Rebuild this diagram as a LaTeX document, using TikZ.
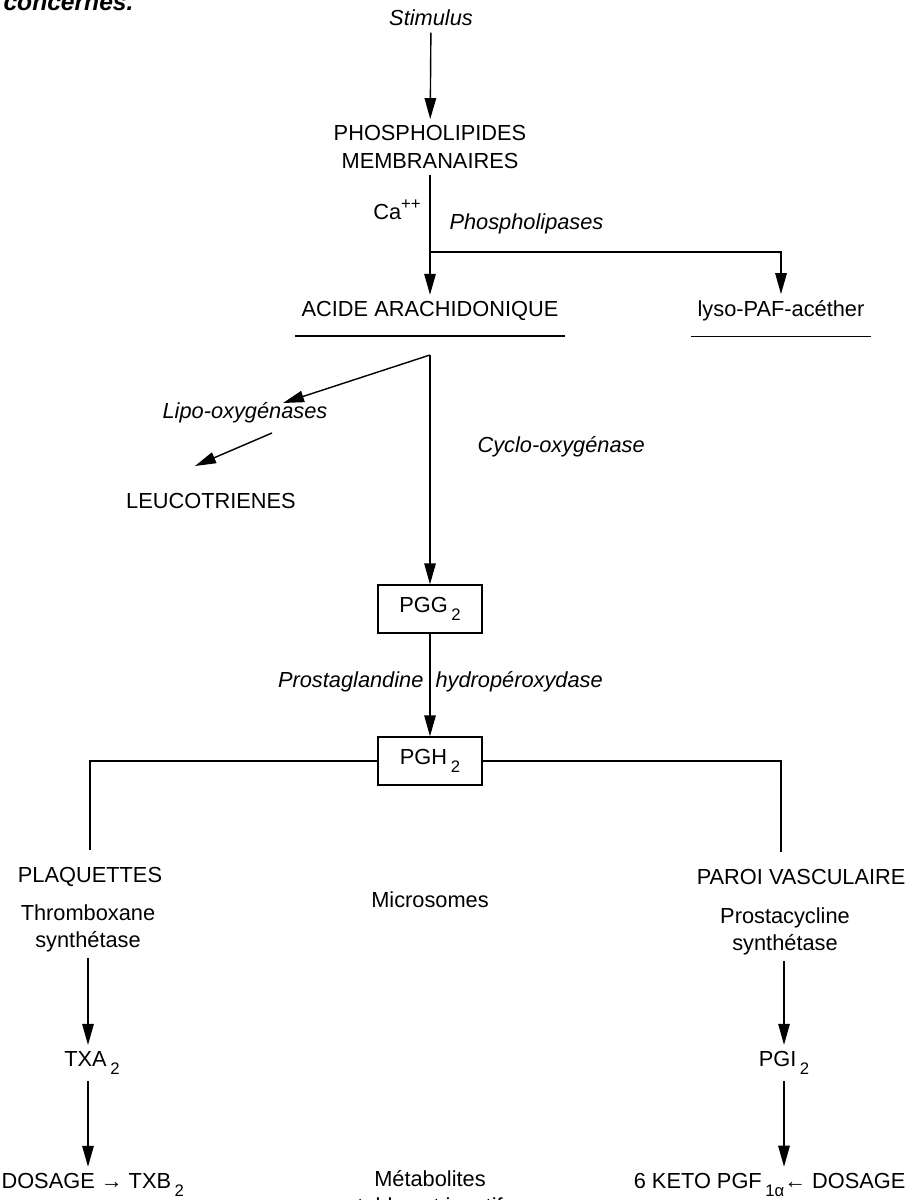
\documentclass[tikz,border=0pt]{standalone}
\usepackage{fontspec}
\setmainfont{Liberation Sans}
\usepackage{tikz}
\usetikzlibrary{arrows.meta}

\newcommand{\low}[1]{\,\raisebox{-0.7ex}{\fontsize{9.5}{9.5}\selectfont #1}}

\begin{document}
\begin{tikzpicture}[x = 0.2mm, y = -0.2mm, line width = 0.8pt,
        every node/.style = {font = \fontsize{12.4}{15.5}\selectfont, align = center},
        enzyme/.style = {font = \fontsize{12.4}{15.5}\selectfont\itshape},
        boite/.style = {shape = rectangle, draw = black, line width = 0.8pt, minimum width = 20.8mm, minimum height = 9.6mm},
        fleche/.style = {-{Triangle[length = 4.2mm, width = 2.3mm]}}]
            \useasboundingbox (0, 0) rectangle (907, 1200);
            \node [anchor = base west, font = \fontsize{14}{16}\selectfont\bfseries\itshape] (titre) at (-3, 11) {concernés.};
            \node [enzyme] (stimulus) at (431, 18) {Stimulus};
            \node (phospho) at (430, 147) {PHOSPHOLIPIDES\\MEMBRANAIRES};
            \node (ca) at (397, 210) {Ca\raisebox{0.9ex}{\fontsize{9.5}{9.5}\selectfont ++}};
            \node [enzyme, anchor = west] (phospholipases) at (443, 224) {Phospholipases};
            \coordinate (branche) at (430, 252);
            \node (acide) at (430, 311) {ACIDE ARACHIDONIQUE};
            \node (lyso) at (781, 311) {lyso-PAF-acéther};
            \coordinate (fourche) at (430, 355);
            \node [enzyme] (lipo) at (245, 413) {Lipo-oxygénases};
            \coordinate (lipoA) at (283, 403);
            \coordinate (lipoB) at (272, 433);
            \coordinate (leucoA) at (195, 466);
            \node (leuco) at (211, 501) {LEUCOTRIENES};
            \node [enzyme, anchor = west] (cyclo) at (471, 447) {Cyclo-oxygénase};
            \node [boite] (pgg) at (430, 609) {PGG\low{2}};
            \node [enzyme, anchor = east] (prosta) at (430, 682) {Prostaglandine};
            \node [enzyme, anchor = west] (hydro) at (429, 682) {hydropéroxydase};
            \node [boite] (pgh) at (430, 761) {PGH\low{2}};
            \node (plaq) at (90, 877) {PLAQUETTES};
            \node [anchor = east] (paroi) at (912, 877) {PAROI VASCULAIRE};
            \node (micro) at (430, 900) {Microsomes};
            \node (thrombo) at (88, 928) {Thromboxane\\synthétase};
            \node (prostacyc) at (785, 931) {Prostacycline\\synthétase};
            \node (txa) at (92, 1063) {TXA\low{2}};
            \node (pgi) at (784, 1063) {PGI\low{2}};
            \node [anchor = west] (txb) at (-5, 1185) {DOSAGE → TXB\low{2}};
            \node (metab) at (430, 1192) {Métabolites\\stables et inactifs};
            \node [anchor = east] (keto) at (912, 1185) {6 KETO PGF\low{1α}← DOSAGE};

            \draw [fleche] (stimulus) -- (phospho);
            \draw [fleche] (phospho) -- (acide);
            \draw [fleche] (branche) -| (lyso);
            \draw ([yshift = -5pt] acide.south west) -- ([yshift = -5pt] acide.south east);
            \draw ([yshift = -5pt] lyso.south west) -- ([yshift = -5pt] lyso.south east);
            \draw [fleche] (fourche) -- (lipoA);
            \draw [fleche] (lipoB) -- (leucoA);
            \draw [fleche] (fourche) -- (pgg);
            \draw [fleche] (pgg) -- (pgh);
            \draw (pgh.west) -| ([yshift = 2.2mm] plaq.north);
            \draw (pgh.east) -| ([xshift = -4mm, yshift = 2.2mm] paroi.north);
            \draw [fleche] (thrombo.south) -- (thrombo.south |- txa.north);
            \draw [fleche] (thrombo.south |- txa.south) -- (thrombo.south |- txb.north);
            \draw [fleche] (prostacyc.south -| pgi.center) -- (pgi.north);
            \draw [fleche] (pgi.south) -- (pgi.south |- keto.north);
        \end{tikzpicture}
\end{document}
